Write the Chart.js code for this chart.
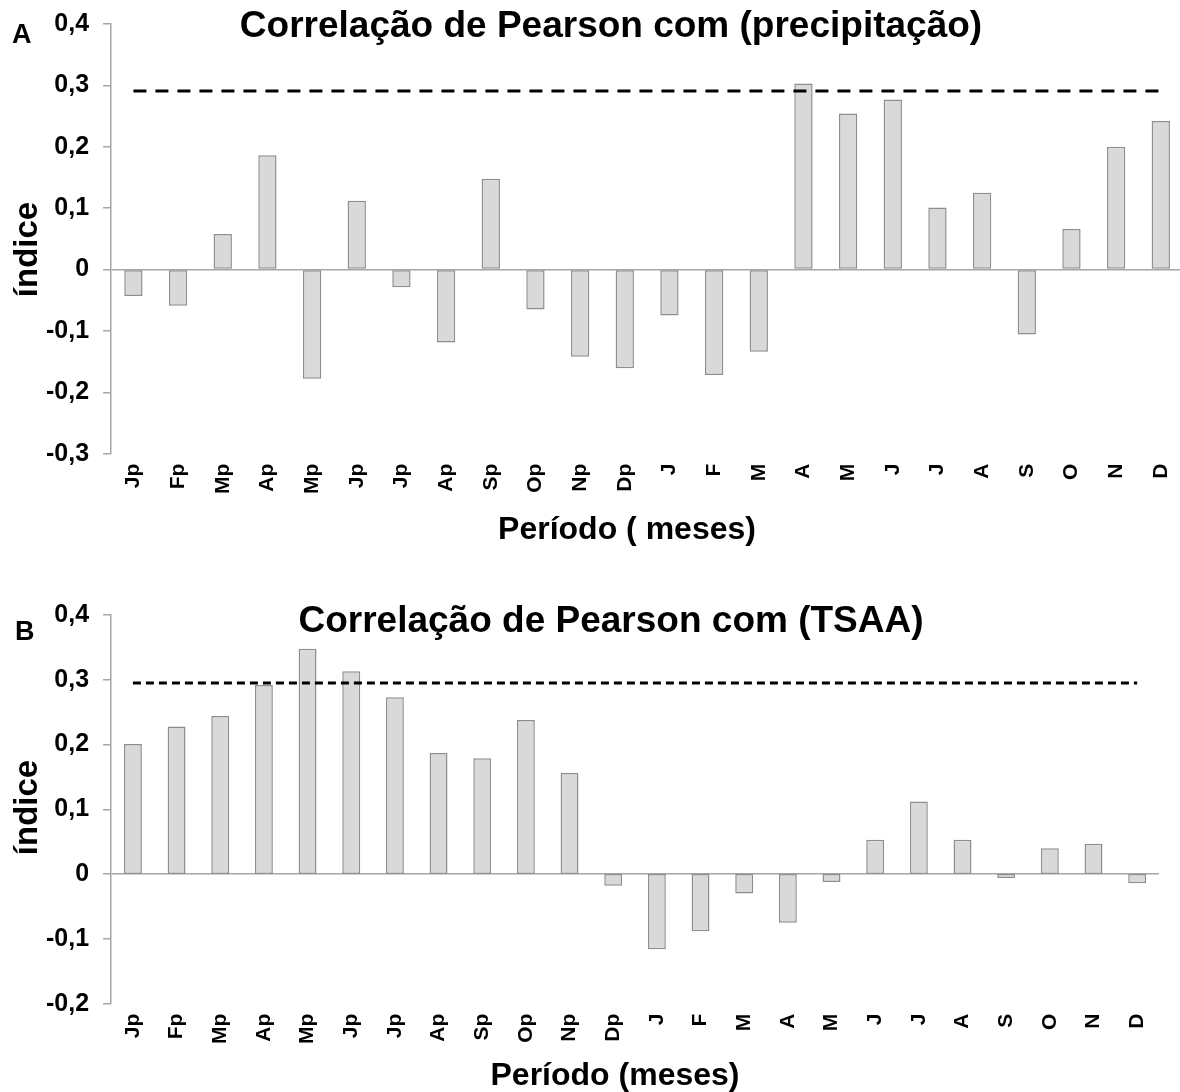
<!DOCTYPE html>
<html>
<head>
<meta charset="utf-8">
<script src="https://cdn.jsdelivr.net/npm/chart.js@4"></script>
<style>
  html, body { margin: 0; padding: 0; background: #fff; }
  body { width: 1180px; height: 1092px; position: relative; overflow: hidden;
         font-family: "Liberation Sans", Arial, sans-serif; }
  .wrap  { position: absolute; left: 0; }
  .txt   { position: absolute; left: 0; text-align: center; font-weight: bold;
           line-height: 1; color: #000; white-space: nowrap; }
  .ttl   { width: 1222px; font-size: 37px; }
  .xt    { font-size: 32px; }
  .yt    { width: 200px; height: 33px; font-size: 33px; transform: rotate(-90deg); }
  .panel { position: absolute; font-weight: bold; font-size: 27px; line-height: 1; color: #000; }
</style>
</head>
<body>
  <div class="wrap" style="top:-5px;width:1188px;height:560px"><canvas id="chartA" width="1188" height="560"></canvas></div>
  <div class="wrap" style="top:560px;width:1180px;height:532px"><canvas id="chartB" width="1180" height="532"></canvas></div>
  <div class="txt ttl" style="top:6px">Correlação de Pearson com (precipitação)</div>
  <div class="txt ttl" style="top:601px">Correlação de Pearson com (TSAA)</div>
  <div class="txt xt" style="top:512px;width:1254px">Período ( meses)</div>
  <div class="txt xt" style="top:1058px;width:1230px">Período (meses)</div>
  <div class="txt yt" style="left:-75px;top:233px">índice</div>
  <div class="txt yt" style="left:-75px;top:791px">índice</div>
  <div class="panel" style="top:21px;left:12px">A</div>
  <div class="panel" style="top:618px;left:15px">B</div>

<script>
/* ---------- categories (p = previous year) ---------- */
const MONTHS = ['Jp','Fp','Mp','Ap','Mp','Jp','Jp','Ap','Sp','Op','Np','Dp',
                'J','F','M','A','M','J','J','A','S','O','N','D'];

/* ---------- correlation indices ---------- */
const PRECIP = [-0.043, -0.059, 0.058, 0.186, -0.178, 0.112, -0.029, -0.119, 0.148, -0.065, -0.142, -0.161,
                -0.075, -0.172, -0.134, 0.303, 0.254, 0.277, 0.101, 0.125, -0.106, 0.066, 0.200, 0.242];
const TSAA   = [0.201, 0.228, 0.244, 0.292, 0.348, 0.313, 0.273, 0.187, 0.179, 0.238, 0.156, -0.018,
                -0.116, -0.088, -0.030, -0.075, -0.012, 0.053, 0.112, 0.053, -0.006, 0.040, 0.047, -0.014];

/* ---------- significance thresholds (dashed) ---------- */
const LIMIT_A = 0.291;
const LIMIT_B = 0.295;

/* ---------- y-axis ranges ---------- */
const Y_A = [-0.3, 0.4];
const Y_B = [-0.2, 0.4];

/* ---------- colours ---------- */
const COLORS = {
  barFill : '#d9d9d9',
  barEdge : '#8e8e8e',
  axis    : '#a6a6a6',
  dash    : '#000000'
};

const FONT = '"Liberation Sans", Arial, sans-serif';
const fmt  = v => {
  const r = Math.round(v * 10) / 10;
  return Math.abs(r) < 1e-9 ? '0' : r.toFixed(1).replace('.', ',');
};

const build = (cid, values, limit, yr, dash, padding) => {
  new Chart(document.getElementById(cid), {
    type: 'bar',
    data: {
      labels: MONTHS,
      datasets: [
        { type: 'line', data: MONTHS.map(() => limit), borderColor: COLORS.dash,
          borderWidth: 3, borderDash: dash, pointRadius: 0, fill: false, order: 0 },
        { data: values, backgroundColor: COLORS.barFill, borderColor: COLORS.barEdge,
          borderWidth: 1.5, borderSkipped: false, barPercentage: 0.41,
          categoryPercentage: 1, order: 1 }
      ]
    },
    options: {
      responsive: false, animation: false,
      layout: { padding },
      plugins: { legend: { display: false }, tooltip: { enabled: false } },
      scales: {
        x: {
          grid: { display: false }, border: { display: false },
          ticks: { color: '#000', autoSkip: false, minRotation: 90, maxRotation: 90,
                   padding: 2, font: { family: FONT, size: 21, weight: 'bold' } }
        },
        y: {
          min: yr[0], max: yr[1],
          border: { display: true, color: COLORS.axis, width: 1.5 },
          grid: {
            color: c => Math.abs(c.tick.value) < 1e-9 ? COLORS.axis : 'rgba(0,0,0,0)',
            tickColor: COLORS.axis, lineWidth: 1.5, tickLength: 8, drawTicks: true
          },
          ticks: { stepSize: 0.1, color: '#000', padding: 14, callback: fmt,
                   font: { family: FONT, size: 25, weight: 'bold' } }
        }
      }
    }
  });
};

build('chartA', PRECIP, LIMIT_A, Y_A, [13, 9],
      { left: 32, top: 18, right: 0, bottom: 59 });
build('chartB', TSAA, LIMIT_B, Y_B, [8, 5],
      { left: 32, top: 55, right: 21, bottom: 46 });
</script>
</body>
</html>
